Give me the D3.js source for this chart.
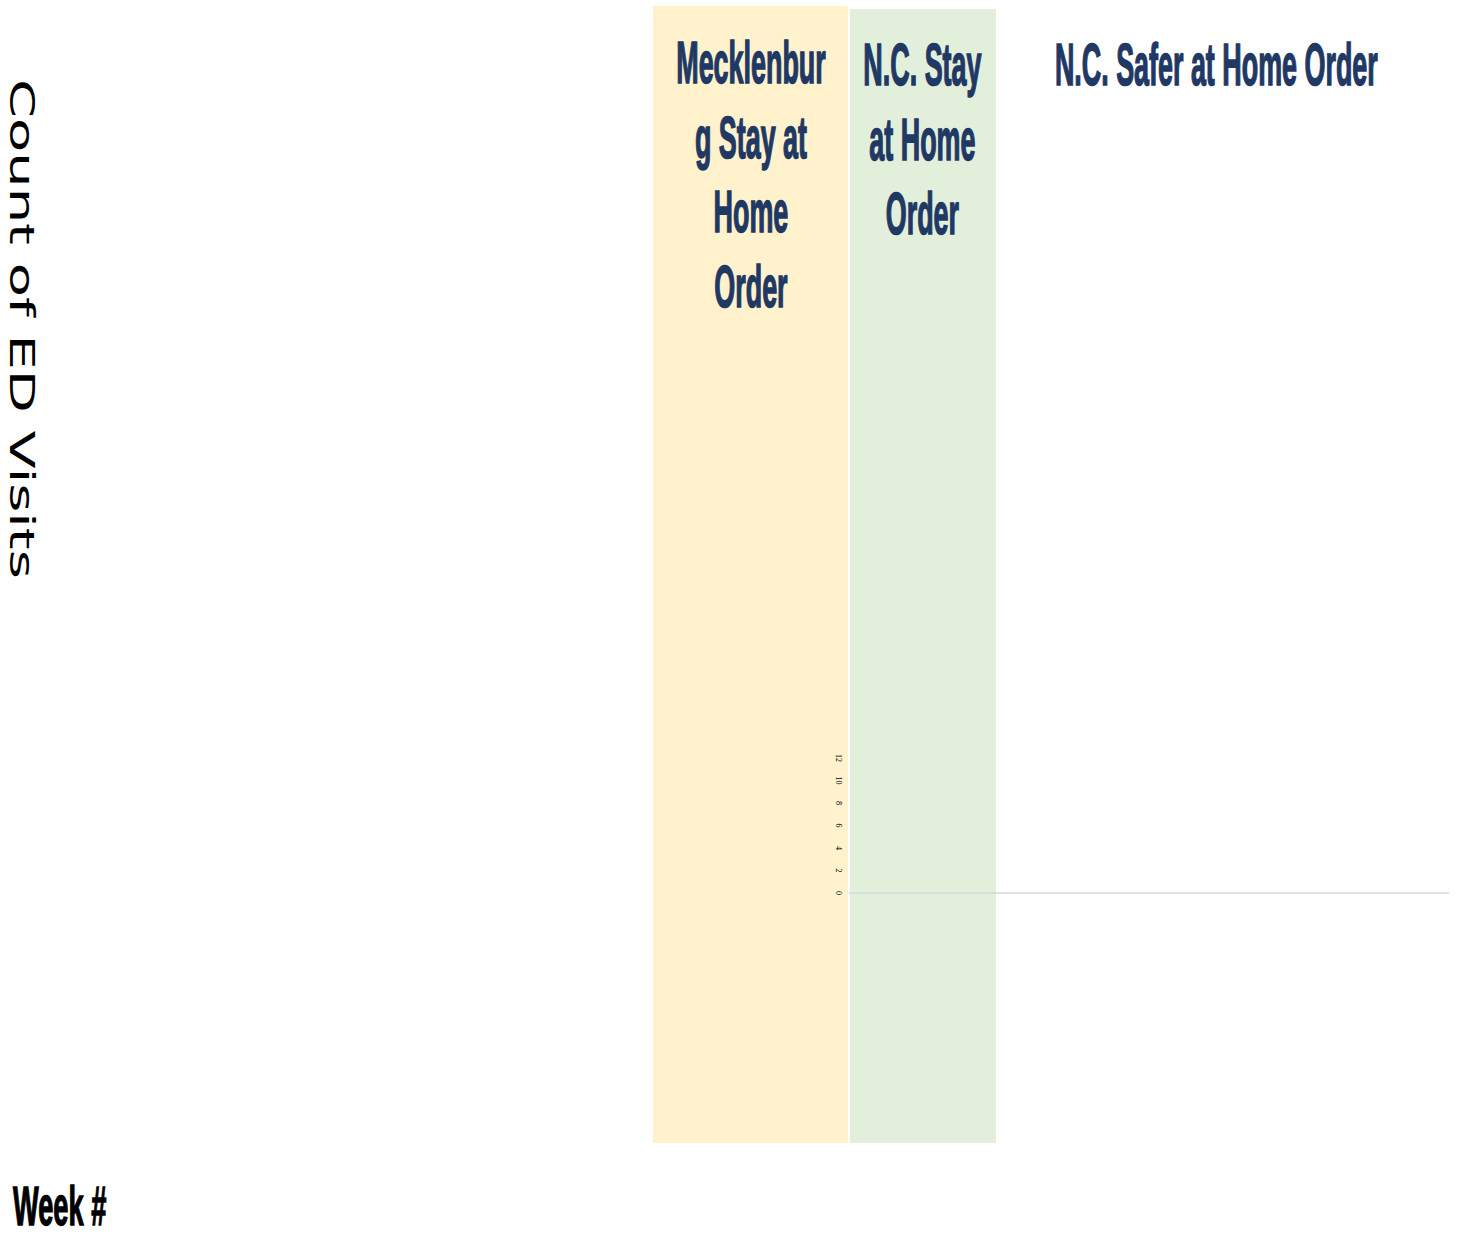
<!DOCTYPE html>
<html>
<head>
<meta charset="utf-8">
<script src="https://cdn.jsdelivr.net/npm/d3@7"></script>
<style>
html, body { margin: 0; padding: 0; background: #fff; }
svg { display: block; }
</style>
</head>
<body>
<svg id="chart" width="1473" height="1236"></svg>
<script>
// order periods, in weeks from the first band
var bandNames = [
  ["Mecklenbur", "g Stay at", "Home", "Order"],
  ["N.C. Stay", "at Home", "Order"],
  ["N.C. Safer at Home Order"]
];
var bandStart = [0, 4, 7];
var bandEnd = [4, 7, 16];
var bandColor = ["#fff2cc", "#e2efda", "none"];

var yTicks = [0, 2, 4, 6, 8, 10, 12];
var axisWeeks = [4, 16.25];

var svg = d3.select("#chart"),
    width = +svg.attr("width"),
    height = +svg.attr("height");

var x = d3.scaleLinear().domain([0, 16.25]).range([653, 1449]);
var y = d3.scaleLinear().domain([0, 12]).range([893, 758]);

var bandTop = 7, bandBottom = 1143;

// shaded bands
svg.append("g").selectAll("rect")
  .data(bandStart)
  .enter().append("rect")
  .attr("x", function(d, i) { return x(d) + (i > 0 ? 1 : 0); })
  .attr("y", function(d, i) { return i == 0 ? bandTop - 1 : bandTop + 2; })
  .attr("width", function(d, i) { return x(bandEnd[i]) - x(d) - 1; })
  .attr("height", function(d, i) { return bandBottom - (i == 0 ? bandTop - 1 : bandTop + 2); })
  .attr("fill", function(d, i) { return bandColor[i]; });

// band titles
var lineH = 74.5;
bandNames.forEach(function(lines, i) {
  var cx = (x(bandStart[i]) + x(bandEnd[i])) / 2;
  var first = i == 0 ? 83 : 85;
  lines.forEach(function(t, j) {
    svg.append("text")
      .attr("transform", "translate(" + cx + "," + (first + j * lineH) + ") scale(0.456,1)")
      .attr("text-anchor", "middle")
      .attr("font-family", "Liberation Sans, Arial, sans-serif")
      .attr("font-weight", "bold")
      .attr("font-size", 59)
      .attr("fill", "#1f3864")
      .attr("stroke", "#1f3864")
      .attr("stroke-width", 1.6)
      .text(t);
  });
});

// baseline at zero
svg.append("line")
  .attr("x1", x(axisWeeks[0]))
  .attr("x2", x(axisWeeks[1]))
  .attr("y1", y(0))
  .attr("y2", y(0))
  .attr("stroke", "#d9d9d9")
  .attr("stroke-width", 1.5);

// y axis labels (tiny, rotated)
var yAxis = svg.append("g")
  .attr("transform", "translate(" + (x(axisWeeks[0]) - 11) + ",0)")
  .call(d3.axisLeft(y).tickValues(yTicks).tickSize(0).tickPadding(0));
yAxis.select(".domain").remove();
yAxis.selectAll("text")
  .attr("x", null).attr("dy", null)
  .attr("text-anchor", "middle")
  .attr("transform", function(d) { return "translate(-2," + y(d) + ") rotate(90)"; })
  .attr("y", 0)
  .attr("font-family", "Liberation Serif, serif")
  .attr("font-size", 8)
  .attr("fill", "#000");
yAxis.selectAll(".tick").attr("transform", null);

// y axis title
svg.append("text")
  .attr("transform", "translate(10,79) rotate(90) scale(1.645,1)")
  .attr("font-family", "DejaVu Sans, sans-serif")
  .attr("font-size", 34)
  .attr("fill", "#000")
  .text("Count of ED Visits");

// x axis title
svg.append("text")
  .attr("transform", "translate(13,1225) scale(0.495,1)")
  .attr("font-family", "Liberation Sans, Arial, sans-serif")
  .attr("font-weight", "bold")
  .attr("font-size", 55)
  .attr("fill", "#000")
  .attr("stroke", "#000")
  .attr("stroke-width", 1.4)
  .text("Week #");
</script>
</body>
</html>
